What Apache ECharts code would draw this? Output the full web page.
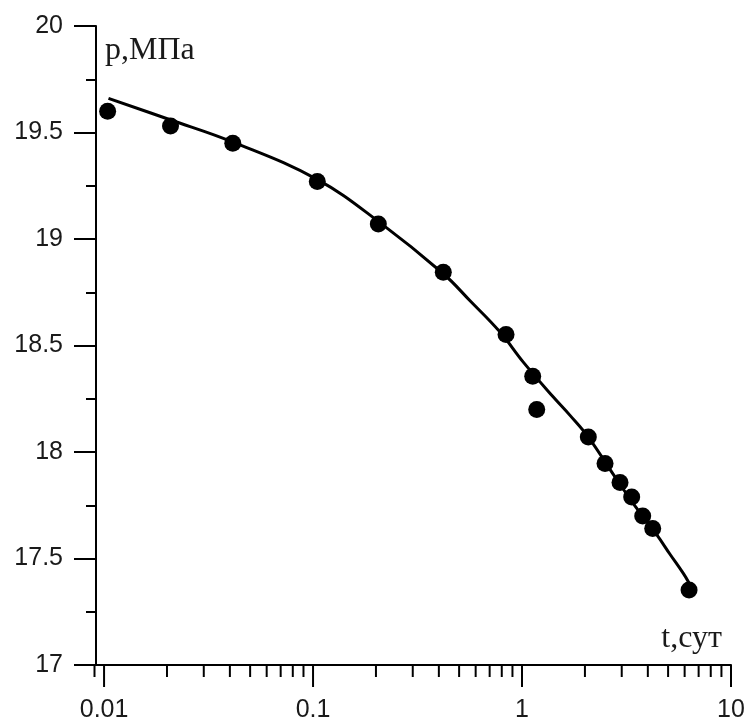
<!DOCTYPE html>
<html>
<head>
<meta charset="utf-8">
<script src="https://cdn.jsdelivr.net/npm/echarts@6/dist/echarts.min.js"></script>
<style>
html,body{margin:0;padding:0;background:#fff;}
#chart{width:746px;height:720px;}
</style>
</head>
<body>
<div id="chart"></div>
<script>
// Measured points: time t (сут) and pressure p (МПа)
const pointT = [0.0104, 0.0208, 0.0413, 0.1048, 0.2053, 0.420, 0.8385, 1.125, 1.176, 2.076, 2.496, 2.944, 3.348, 3.78, 4.22, 6.30];
const pointP = [19.60, 19.53, 19.45, 19.27, 19.07, 18.844, 18.552, 18.356, 18.20, 18.07, 17.946, 17.857, 17.789, 17.70, 17.641, 17.352];

// Fitted curve
const curveT = [0.0105, 0.0207, 0.0414, 0.1045, 0.209, 0.419, 0.564, 0.785, 1.014, 1.412, 1.697, 2.076, 2.734, 3.408, 4.41, 5.107, 5.913, 6.30];
const curveP = [19.66, 19.56, 19.455, 19.28, 19.077, 18.838, 18.71, 18.563, 18.422, 18.258, 18.172, 18.07, 17.895, 17.758, 17.612, 17.52, 17.43, 17.385];

// Axis ranges and ticks
const xMin = 0.00915, xMax = 10;
const yMin = 17, yMax = 20, yStep = 0.5;
const xMajorTicks = [0.01, 0.1, 1, 10];
const xMajorLabels = ['0.01', '0.1', '1', '10'];
const xMinorTicks = [0.009, 0.02, 0.03, 0.04, 0.05, 0.06, 0.07, 0.08, 0.09,
  0.2, 0.3, 0.4, 0.5, 0.6, 0.7, 0.8, 0.9, 2, 3, 4, 5, 6, 7, 8, 9];
const yAxisTitle = 'p,МПа';
const xAxisTitle = 't,сут';

const chart = echarts.init(document.getElementById('chart'));

const tickData = xMajorTicks.map((t, i) => [t, yMin, 1, i])
  .concat(xMinorTicks.map(t => [t, yMin, 0, -1]));

const option = {
  backgroundColor: '#fff',
  animation: false,
  grid: { left: 96, right: 15, top: 26, bottom: 55, containLabel: false },
  xAxis: {
    type: 'log',
    logBase: 10,
    min: xMin,
    max: xMax,
    axisLine: { show: true, lineStyle: { color: '#000', width: 2 } },
    axisTick: { show: false },
    axisLabel: { show: false },
    splitLine: { show: false }
  },
  yAxis: {
    type: 'value',
    min: yMin,
    max: yMax,
    interval: yStep,
    axisLine: { show: true, lineStyle: { color: '#000', width: 2 } },
    axisTick: { show: true, inside: false, length: 22, lineStyle: { color: '#000', width: 2 } },
    minorTick: { show: true, splitNumber: 2, length: 10, lineStyle: { color: '#000', width: 2 } },
    axisLabel: { fontSize: 25, color: '#1a1a1a', fontFamily: 'Liberation Sans, Arial, sans-serif', margin: 33 },
    splitLine: { show: false },
    minorSplitLine: { show: false }
  },
  graphic: [
    { type: 'text', x: 105, y: 51, style: { text: yAxisTitle, font: '32px "Liberation Serif", "Times New Roman", serif', fill: '#1a1a1a', align: 'left', verticalAlign: 'middle' } },
    { type: 'text', x: 722, y: 639, style: { text: xAxisTitle, font: '32px "Liberation Serif", "Times New Roman", serif', fill: '#1a1a1a', align: 'right', verticalAlign: 'middle' } }
  ],
  series: [
    {
      type: 'custom',
      clip: false,
      silent: true,
      encode: { x: 0, y: 1 },
      data: tickData,
      renderItem: function (params, api) {
        const pt = api.coord([api.value(0), api.value(1)]);
        const major = api.value(2) === 1;
        const len = major ? 22 : 12;
        const children = [{
          type: 'line',
          shape: { x1: pt[0], y1: pt[1], x2: pt[0], y2: pt[1] + len },
          style: { stroke: '#000', lineWidth: 2 }
        }];
        if (major) {
          children.push({
            type: 'text',
            x: pt[0], y: pt[1] + 45,
            style: {
              text: xMajorLabels[api.value(3)],
              font: '25px "Liberation Sans", Arial, sans-serif',
              fill: '#1a1a1a',
              align: 'center', verticalAlign: 'middle'
            }
          });
        }
        return { type: 'group', children: children };
      }
    },
    {
      type: 'line',
      data: curveT.map((t, i) => [t, curveP[i]]),
      smooth: 0.4,
      showSymbol: false,
      lineStyle: { color: '#000', width: 3 },
      z: 3
    },
    {
      type: 'scatter',
      data: pointT.map((t, i) => [t, pointP[i]]),
      symbol: 'circle',
      symbolSize: 17,
      itemStyle: { color: '#000', opacity: 1 },
      z: 4
    }
  ]
};
chart.setOption(option);
</script>
</body>
</html>
